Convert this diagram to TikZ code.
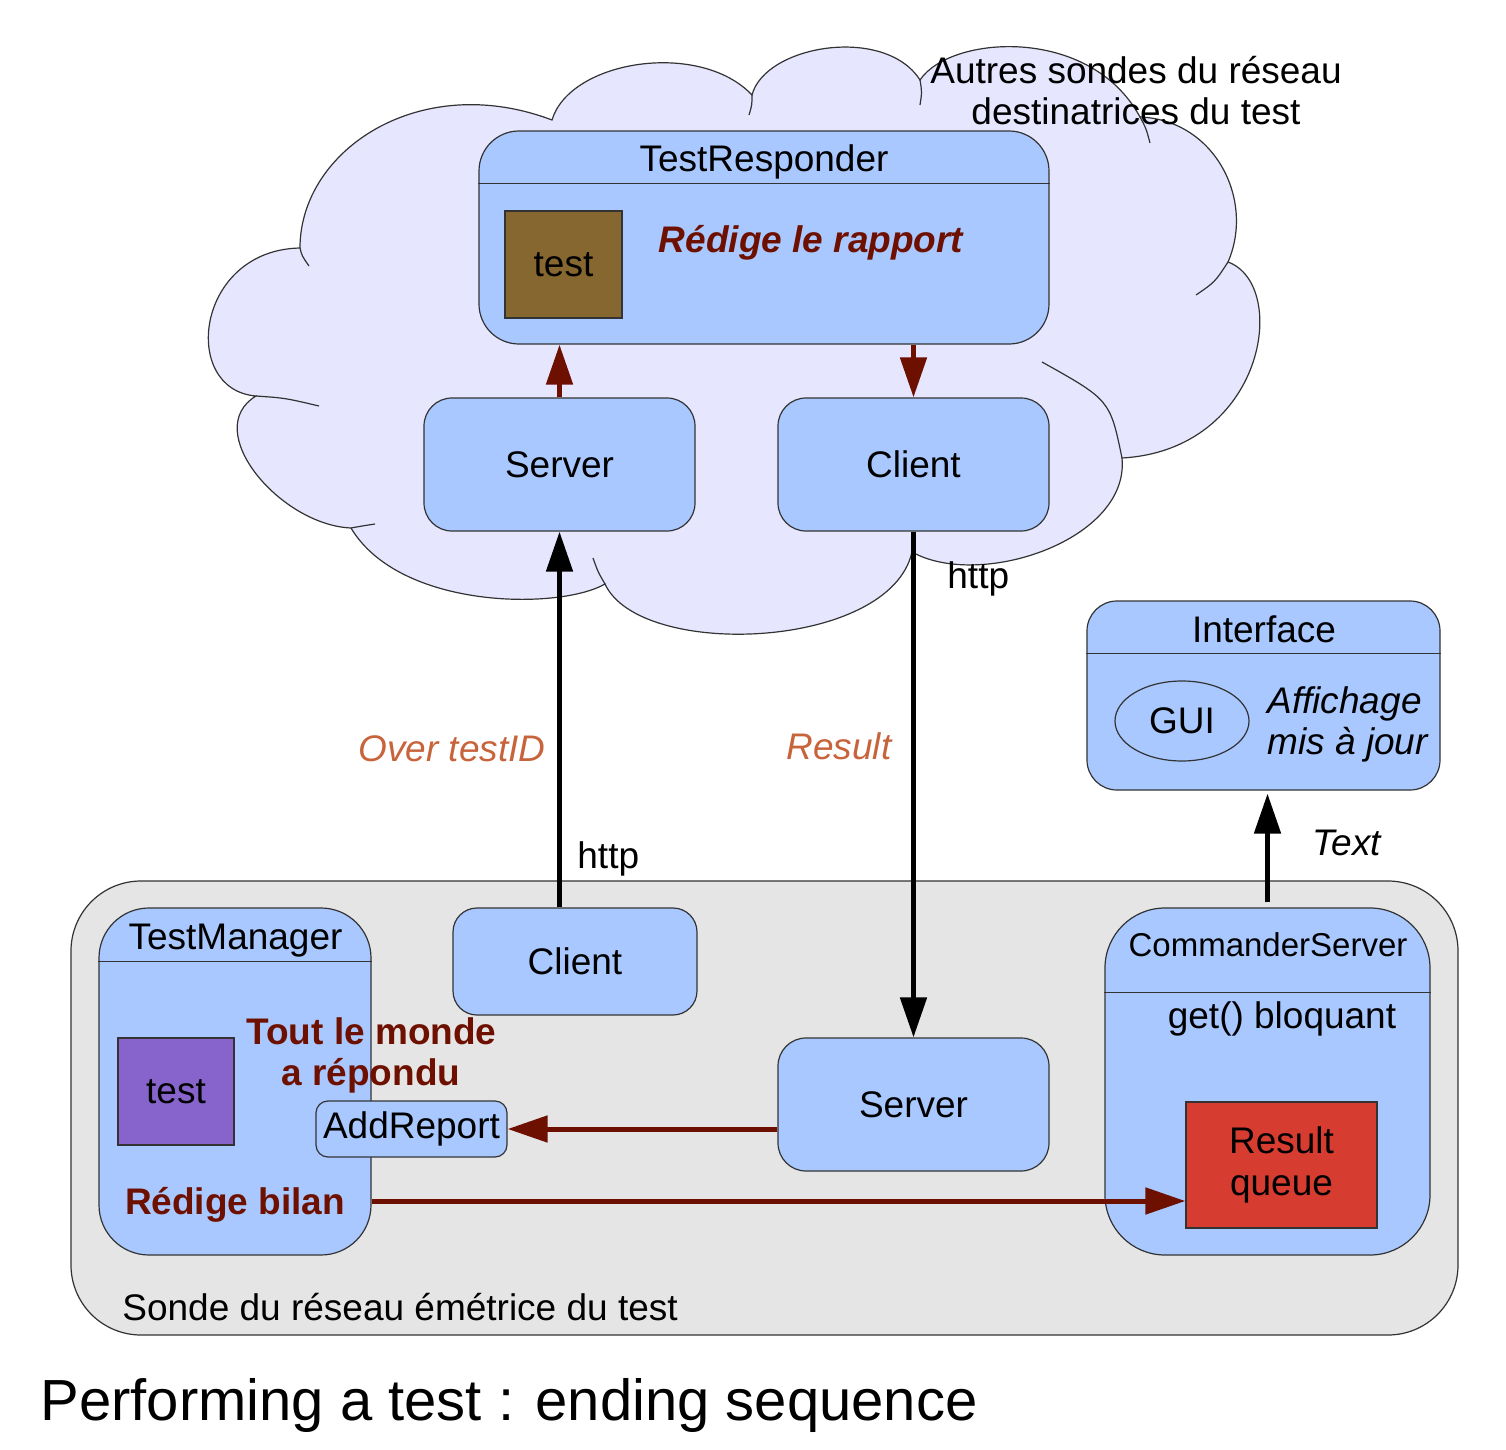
\documentclass[tikz,border=0pt]{standalone}
\usepackage{fontspec}
\setmainfont{Liberation Sans}
\usetikzlibrary{arrows.meta,calc,shapes.geometric}
\definecolor{cloudfill}{HTML}{E6E6FF}
\definecolor{boxblue}{HTML}{A8C8FF}
\definecolor{brownbox}{HTML}{85672F}
\definecolor{purplebox}{HTML}{8763CC}
\definecolor{redbox}{HTML}{D63C30}
\definecolor{graybg}{HTML}{E5E5E5}
\definecolor{arrowred}{HTML}{6E1000}
\definecolor{orangetxt}{HTML}{C8643C}
\definecolor{edgegray}{HTML}{333333}
\begin{document}
\begin{tikzpicture}[x=0.5pt,y=-0.5pt,
  txt/.style={inner sep=0pt, anchor=base, font=\fontsize{18.5}{22}\selectfont},
  txtw/.style={txt, anchor=base west},
  boldred/.style={text=arrowred, font=\fontsize{18.5}{22}\selectfont\bfseries},
  orangeit/.style={text=orangetxt, font=\fontsize{18.5}{22}\selectfont\itshape},
  blk/.style={draw=edgegray, fill=boxblue, line width=0.6pt, inner sep=0pt,
              font=\fontsize{18.5}{22}\selectfont},
  sq/.style={draw=edgegray, line width=0.6pt, inner sep=0pt,
             font=\fontsize{18.5}{22}\selectfont},
  divider/.style={draw=edgegray, line width=0.6pt},
  cloudline/.style={draw=edgegray, line width=0.6pt},
  blackarr/.style={line width=2.5pt, -{Triangle[length=20pt,width=13pt]}},
  redarr/.style={line width=2.5pt, draw=arrowred, -{Triangle[length=20pt,width=13pt]}, color=arrowred}
]
\useasboundingbox (0,0) rectangle (1506,1450);

% ---------- cloud ----------
\path[cloudline, fill=cloudfill] (300,248)
  .. controls (300,150) and (420,70) .. (552,120)
  .. controls (570,60) and (700,40) .. (752,95)
  .. controls (765,45) and (885,25) .. (920,80)
  .. controls (950,35) and (1090,25) .. (1140,117)
  .. controls (1215,120) and (1255,200) .. (1228,262)
  .. controls (1290,285) and (1265,450) .. (1122,458)
  .. controls (1130,540) and (980,590) .. (912,552)
  .. controls (890,650) and (640,660) .. (605,584)
  .. controls (560,610) and (400,610) .. (351,528)
  .. controls (280,525) and (200,430) .. (256,396)
  .. controls (180,390) and (195,250) .. (300,248) -- cycle;
\draw[cloudline] (300,248) .. controls (302,256) .. (309,266);
\draw[cloudline] (752,95) .. controls (752,105) .. (749,115);
\draw[cloudline] (920,80) .. controls (922,92) .. (920,105);
\draw[cloudline] (1140,117) .. controls (1146,128) .. (1150,143);
\draw[cloudline] (1228,262) .. controls (1215,282) .. (1196,295);
\draw[cloudline] (1122,458) .. controls (1110,400) .. (1042,362);
\draw[cloudline] (605,584) .. controls (598,572) .. (593,558);
\draw[cloudline] (351,528) .. controls (362,526) .. (375,524);
\draw[cloudline] (256,396) .. controls (285,398) .. (319,406);

\node[txt] (autres1) at (1136,84) {Autres sondes du réseau};
\node[txt] (autres2) at (1136,125) {destinatrices du test};

% ---------- gray probe region ----------
\node[draw=edgegray, fill=graybg, line width=0.6pt, rounded corners=35pt,
      minimum width=693.5pt, minimum height=227pt, inner sep=0pt] (sonde) at (764.5,1108) {};
\node[txtw] (sondel) at (122,1320) {Sonde du réseau émétrice du test};

% ---------- upper boxes ----------
\node[blk, rounded corners=20pt, minimum width=285pt, minimum height=106.5pt] (tr) at (764,237.5) {};
\draw[divider] ($(tr.north west)+(0,53)$) -- ($(tr.north east)+(0,53)$);
\node[txt] (trl) at (764,171) {TestResponder};
\node[sq, fill=brownbox, minimum width=58.5pt, minimum height=53.5pt] (trtest) at (563.5,264.5) {test};
\node[txt, boldred, font=\fontsize{18.5}{22}\selectfont\bfseries\itshape] (redige) at (811,252) {Rédige le rapport};

\node[blk, rounded corners=14pt, minimum width=135.5pt, minimum height=66.5pt] (srvT) at (559.5,464.5) {Server};
\node[blk, rounded corners=14pt, minimum width=135.5pt, minimum height=66.5pt] (cliT) at (913.5,464.5) {Client};

% ---------- interface ----------
\node[blk, rounded corners=15pt, minimum width=176.5pt, minimum height=94.5pt] (iface) at (1263.5,695.5) {};
\draw[divider] ($(iface.north west)+(0,53)$) -- ($(iface.north east)+(0,53)$);
\node[txt] (ifl) at (1264,642) {Interface};
\node[draw=edgegray, line width=0.6pt, ellipse, inner sep=0pt, minimum width=67pt, minimum height=40pt,
      font=\fontsize{18.5}{22}\selectfont] (gui) at (1182,721) {GUI};
\node[txtw, font=\fontsize{18.5}{22}\selectfont\itshape] (aff1) at (1267,713) {Affichage};
\node[txtw, font=\fontsize{18.5}{22}\selectfont\itshape] (aff2) at (1267,754) {mis à jour};

% ---------- lower boxes ----------
\node[blk, rounded corners=25pt, minimum width=136pt, minimum height=173.5pt] (tm) at (235,1081.5) {};
\draw[divider] ($(tm.north west)+(0,54)$) -- ($(tm.north east)+(0,54)$);
\node[txt] (tml) at (235.5,949) {TestManager};
\node[sq, fill=purplebox, minimum width=58pt, minimum height=53.5pt] (tmtest) at (176,1091.5) {test};

\node[blk, rounded corners=12pt, minimum width=122pt, minimum height=53.5pt] (cliB) at (575,961.5) {Client};
\node[blk, rounded corners=14pt, minimum width=135.5pt, minimum height=66.5pt] (srvB) at (913.5,1104.5) {Server};

\node[blk, rounded corners=30pt, minimum width=162.5pt, minimum height=173.5pt] (cmd) at (1267.5,1081.5) {};
\draw[divider] ($(cmd.north west)+(0,85)$) -- ($(cmd.north east)+(0,85)$);
\node[txt, font=\fontsize{16.5}{20}\selectfont] (cmdl) at (1268,956) {CommanderServer};
\node[txt] (getb) at (1282,1028) {get() bloquant};
\node[sq, fill=redbox, align=center, minimum width=95.5pt, minimum height=63pt,
      font=\fontsize{18.5}{21}\selectfont] (rq) at (1281.5,1165) {Result\\queue};

\node[txt, boldred] (tout1) at (371.5,1044) {Tout le monde};
\node[txt, boldred] (tout2) at (371,1085) {a répondu};
\node[blk, rounded corners=6pt, minimum width=95.5pt, minimum height=28pt] (addrep) at (411.5,1129) {AddReport};
\node[txt, boldred] (bilan) at (235,1214) {Rédige bilan};

% ---------- connectors ----------
\draw[redarr] (srvT.north) -- (srvT.north |- tr.south);
\draw[redarr] (cliT.north |- tr.south) -- (cliT.north);
\draw[blackarr] (srvT.south |- cliB.north) -- (srvT.south);
\draw[blackarr] (cliT.south) -- (srvB.north);
\draw[blackarr] ([yshift=2.5pt]cmd.north) -- ([yshift=-1.5pt]cmd.north |- iface.south);
\draw[redarr] (srvB.west |- addrep.east) -- (addrep.east);
\coordinate (bilanlvl) at (0,1201);
\draw[redarr] (tm.east |- bilanlvl) -- (rq.west |- bilanlvl);

% ---------- connector labels ----------
\node[txtw] (http1) at (947,588) {http};
\node[txtw] (http2) at (577,868) {http};
\node[txt, orangeit] (over) at (452,761) {Over testID};
\node[txt, orangeit] (resl) at (839,759) {Result};
\node[txtw, font=\fontsize{18.5}{22}\selectfont\itshape] (textl) at (1312,855) {Text};

% ---------- title ----------
\node[txtw, font=\fontsize{29}{34}\selectfont] (title) at (40,1420) {Performing a test : ending sequence};
\end{tikzpicture}
\end{document}
